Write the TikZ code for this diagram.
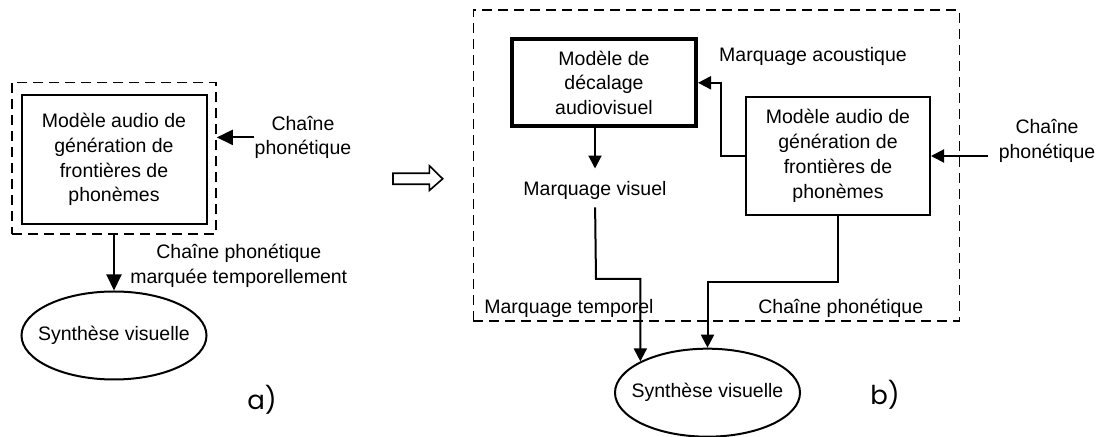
\documentclass[tikz,border=0pt]{standalone}
\usepackage{fontspec}
\setmainfont{Liberation Sans}
\newfontfamily\tagfont{Poppins}
\usepackage{tikz}
\usetikzlibrary{arrows.meta}
\usetikzlibrary{shapes.geometric}

\begin{document}
\begin{tikzpicture}[x=0.5pt, y=-0.5pt,
    every node/.style={font=\fontsize{9.75}{12.4}\selectfont, inner sep=0pt},
    lbl/.style={align=center},
    box/.style={draw, line width=1pt, align=center},
    thickbox/.style={draw, line width=2pt, align=center},
    dashbox/.style={draw, line width=0.8pt, dash pattern=on 5pt off 3pt},
    blob/.style={draw, ellipse, line width=1pt, minimum width=92.5pt, minimum height=44pt},
    tag/.style={font=\tagfont\fontsize{13}{15}\selectfont},
    arrbig/.style={line width=1pt, -{Triangle[length=8pt,width=7.5pt]}},
    arrsmall/.style={line width=1pt, -{Triangle[length=6.5pt,width=6.5pt]}}]
    \useasboundingbox (0,0) rectangle (1104,437);

    % a) one audio model
    \node[dashbox, minimum width=102pt, minimum height=75.6pt] (ldash) at (114,158.3) {};
    \node[box, minimum width=92.5pt, minimum height=64.5pt] (lmod) at (114,159.5)
        {Modèle audio de\\génération de\\frontières de\\phonèmes};
    \node[lbl] (lin) at (303,137.4) {Chaîne\\phonétique};
    \node[lbl, anchor=west] (lout) at (130,265.8) {Chaîne phonétique\\marquée temporellement};
    \node[blob, label=center:{Synthèse visuelle}] (lell) at (114,335.5) {};
    \node[tag] (ta) at (262,400) {a)};

    \draw[arrbig] (lin.west) -- (lin.west -| ldash.east);
    \draw[arrbig] (ldash.south) -- (lell.north);

    % passage a) -> b)
    \draw[line width=0.8pt] (393,173.3) -- (429.3,173.3) -- (429.3,165.7) -- (442.7,178.8)
        -- (429.3,190.5) -- (429.3,184.3) -- (393,184.3) -- cycle;

    % b) audio model + audiovisual shift
    \node[dashbox, minimum width=243pt, minimum height=155.4pt] (rframe) at (716.3,165.4) {};
    \node[thickbox, minimum width=92pt, minimum height=43.5pt] (dec) at (604,82.8)
        {Modèle de\\décalage\\audiovisuel};
    \node[box, minimum width=92pt, minimum height=59pt] (audr) at (838,156)
        {Modèle audio de\\génération de\\frontières de\\phonèmes};
    \node[lbl] (macou) at (813,56.7) {Marquage acoustique};
    \node[lbl] (mvis) at (595,190) {Marquage visuel};
    \node[lbl] (rin) at (1047,140.8) {Chaîne\\phonétique};
    \node[lbl, anchor=west] (mtemp) at (484,308) {Marquage temporel};
    \node[lbl, anchor=west] (cphon) at (758,308) {Chaîne phonétique};
    \node[blob, label=center:{Synthèse visuelle}] (rell) at (707.5,392.7) {};
    \node[tag] (tb) at (885,395) {b)};
    \coordinate (tbend) at (596,279);
    \coordinate (cbend) at (838,282);

    \draw[arrsmall] ([xshift=-5pt]rin.west |- audr.east) -- (audr.east);
    \draw[arrsmall] (audr.west) -- ++(-24,0) |- (dec.east);
    \draw[arrsmall, shorten >=6pt] (mvis.north |- dec.south) -- (mvis.north);
    \draw[arrsmall, shorten <=4pt] (mvis.south) -- (tbend) -| (rell.155);
    \draw[arrsmall] (audr.south) -- (cbend) -| (rell.north);
\end{tikzpicture}
\end{document}
